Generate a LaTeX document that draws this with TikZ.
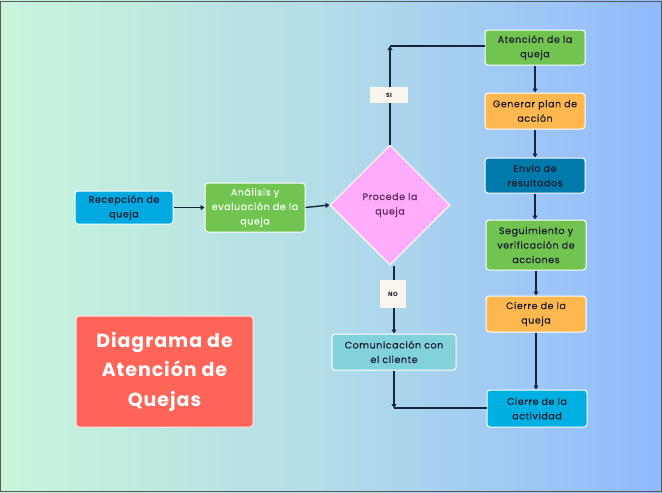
\documentclass[tikz,border=0pt]{standalone}
\usepackage{fontspec}
\setmainfont{Poppins}[LetterSpace=5]
\newfontfamily\boxfont{Poppins}[LetterSpace=6, FakeBold=0.6]
\usetikzlibrary{shapes.geometric,arrows.meta}
\definecolor{bgL}{RGB}{200,245,218}
\definecolor{bgM}{RGB}{178,220,232}
\definecolor{bgR}{RGB}{145,185,255}
\definecolor{cRecep}{RGB}{0,170,225}
\definecolor{cGreen}{RGB}{114,196,80}
\definecolor{cOrange}{RGB}{255,184,80}
\definecolor{cEnvio}{RGB}{0,122,170}
\definecolor{cCierreA}{RGB}{0,176,226}
\definecolor{cComu}{RGB}{130,210,220}
\definecolor{cPink}{RGB}{255,172,250}
\definecolor{cTitle}{RGB}{255,100,88}
\definecolor{cLine}{RGB}{22,36,62}
\definecolor{cText}{RGB}{30,30,50}
\definecolor{cPinkText}{RGB}{95,40,95}
\definecolor{cLabel}{RGB}{250,246,238}
\tikzset{
  box/.style={draw=white, line width=1pt, rounded corners=3pt, align=center, inner sep=0pt,
    minimum width=100pt, font=\boxfont\fontsize{9.5}{14.5}\selectfont, text=cText},
  conn/.style={draw=cLine, line width=1.4pt},
  arr/.style={conn, -{Triangle[length=4pt,width=5pt]}},
  lbl/.style={fill=cLabel, inner sep=0pt, font=\bfseries\fontsize{6}{7}\selectfont, text=cText}
}
\begin{document}
\begin{tikzpicture}[x=1pt,y=-1pt]
\useasboundingbox (0,0) rectangle (662,493);
\shade[left color=bgL, right color=bgM] (0,0) rectangle (331,493);
\shade[left color=bgM, right color=bgR] (331,0) rectangle (662,493);
\draw[gray!70!black, line width=1.2pt] (0.6,1.5) rectangle (661.4,491.5);

\node[box, fill=cRecep, minimum width=98pt, minimum height=33pt] (recep) at (124,207.5) {Recepción de\\queja};
\node[box, fill=cGreen, minimum height=49pt, text=white!92!green] (anal) at (255,207.5) {Análisis y\\evaluación de la\\queja};
\node[draw=white, line width=1pt, fill=cPink, diamond, aspect=1, minimum width=120pt, minimum height=120pt, inner sep=0pt, align=center, font=\boxfont\fontsize{9.5}{14.5}\selectfont, text=cPinkText] (dec) at (390,205) {Procede la\\queja};

\node[box, fill=cGreen, minimum height=35pt] (aten) at (535,47.5) {Atención de la\\queja};
\node[box, fill=cOrange, minimum height=36pt] (gen) at (535,111) {Generar plan de\\acción};
\node[box, fill=cEnvio, minimum height=35pt] (envio) at (535,175.5) {Envio de\\resultados};
\node[box, fill=cGreen, minimum height=50pt] (seg) at (536,245) {Seguimiento y\\verificación de\\acciones};
\node[box, fill=cOrange, minimum height=36pt] (cq) at (536,314) {Cierre de la\\queja};
\node[box, fill=cCierreA, minimum height=37pt] (ca) at (537,408.5) {Cierre de la\\actividad};
\node[box, fill=cComu, minimum width=124pt, minimum height=36pt] (comu) at (394,352) {Comunicación con\\el cliente};

\node[draw=white!85!cTitle, line width=1pt, fill=cTitle, rounded corners=3pt, minimum width=177pt, minimum height=111pt, inner sep=0pt, align=center, text=white, font=\bfseries\fontsize{19}{29.5}\selectfont] (title) at (164.5,371.5) {Diagrama de\\Atención de\\Quejas};

\coordinate (cSI) at (390,46);
\coordinate (cNO) at (394,408);

\draw[arr] (recep.east) -- (anal.west |- recep.east);
\draw[arr] (anal.east) -- (dec.west);
\draw[arr] (dec.north) -- (cSI);
\draw[conn] (cSI) -- (aten.west |- cSI);
\draw[arr] (aten.south) -- (gen.north);
\draw[arr] (gen.south) -- (envio.north);
\draw[arr] (envio.south) -- (envio.south |- seg.north);
\draw[arr] (seg.south) -- (seg.south |- cq.north);
\draw[arr] (cq.south) -- (cq.south |- ca.north);
\draw[arr] (dec.south -| comu.north) -- (comu.north);
\draw[arr] (comu.south) -- (cNO);
\draw[conn] (cNO) -- (ca.west |- cNO);

\node[lbl, minimum width=38pt, minimum height=16pt] (si) at (389,95) {SI};
\node[lbl, minimum width=26pt, minimum height=28pt] (no) at (393,294) {NO};
\end{tikzpicture}
\end{document}
